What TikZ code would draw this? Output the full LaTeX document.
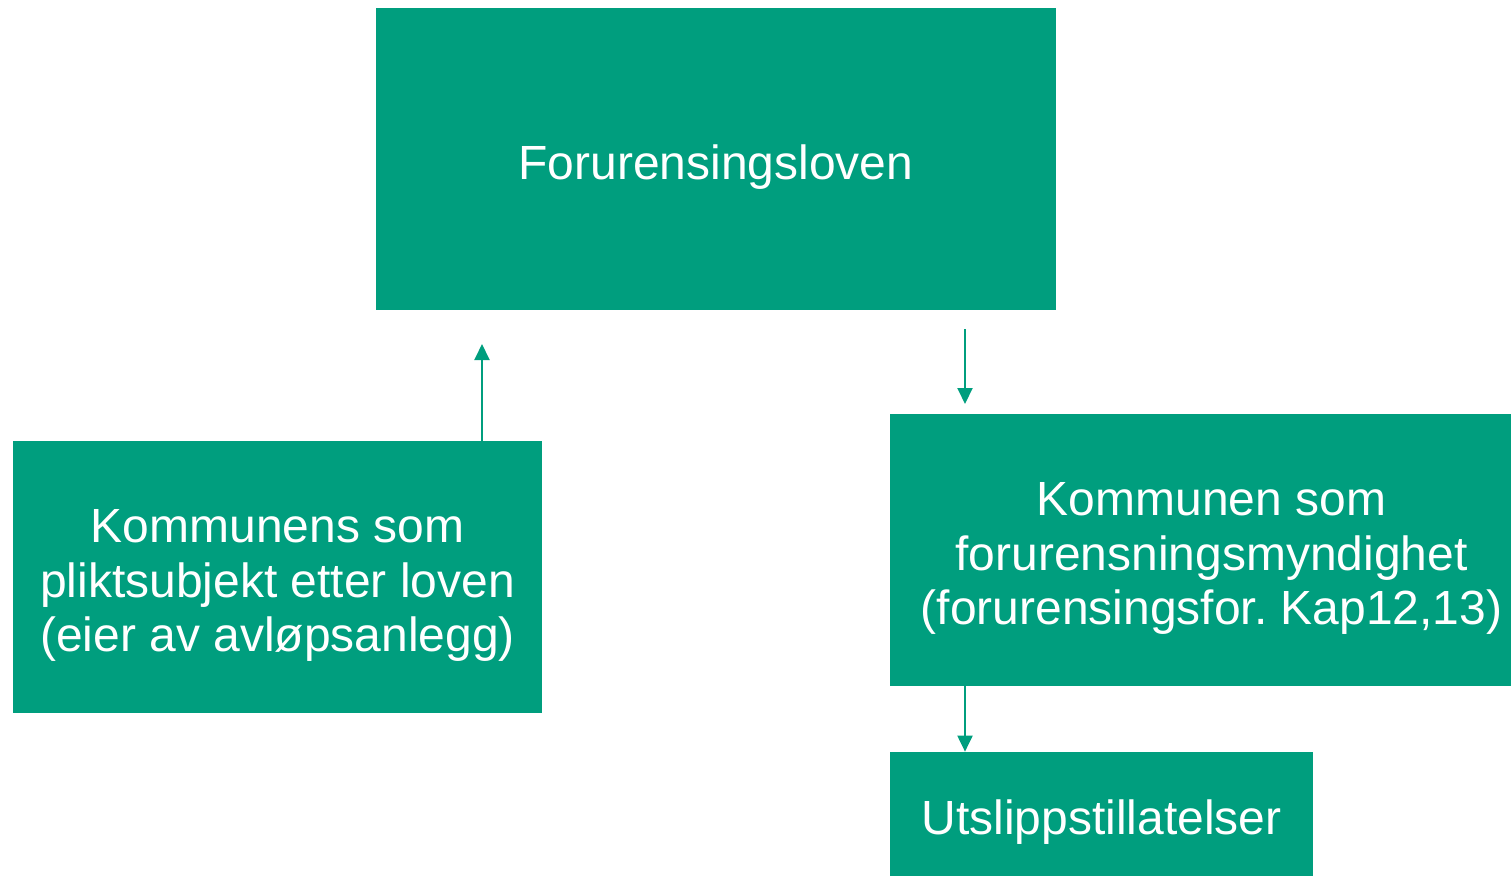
\documentclass[tikz,border=0pt]{standalone}
\usepackage{fontspec}
\setmainfont{Liberation Sans}
\usepackage{xcolor}
\usetikzlibrary{arrows.meta}
\definecolor{lawgreen}{RGB}{0,158,126}
\frenchspacing
\tikzset{
    lawbox/.style={fill=lawgreen, draw=none, inner sep=0pt},
    lawtext/.style={text=white, align=center, inner sep=0pt, yshift=-0.17cm,
        font=\fontsize{27.3}{31.2}\selectfont},
    lawarrow/.style={draw=lawgreen, line width=0.04cm, -{Triangle[width=0.3cm,length=0.32cm]}},
}

\begin{document}
\begin{tikzpicture}
    \useasboundingbox (0,0) rectangle (30.22,-17.52);
    \node[lawbox, minimum width=13.6cm, minimum height=6.04cm,
        label={[lawtext]center:Forurensingsloven}] (lov) at (14.32,-3.18) {};
    \node[lawbox, minimum width=10.58cm, minimum height=5.44cm,
        label={[lawtext]center:Kommunens som\\pliktsubjekt etter loven\\(eier av avløpsanlegg)}] (plikt) at (5.55,-11.54) {};
    \node[lawbox, minimum width=12.42cm, minimum height=5.44cm,
        label={[lawtext, xshift=0.22cm]center:Kommunen som\\forurensningsmyndighet\\(forurensingsfor. Kap12,13)}] (myndighet) at (24.01,-11.0) {};
    \node[lawbox, minimum width=8.46cm, minimum height=2.48cm,
        label={[lawtext]center:Utslippstillatelser}] (utslipp) at (22.03,-16.28) {};

    \coordinate (upend) at (9.64,-6.88);
    \coordinate (downstart) at (19.3,-6.58);
    \coordinate (downend) at (19.3,-8.08);
    \draw[lawarrow] (plikt.north -| upend) -- (upend);
    \draw[lawarrow] (downstart) -- (downend);
    \draw[lawarrow] (myndighet.south -| downstart) -- (utslipp.north -| downstart);
  \end{tikzpicture}
\end{document}
